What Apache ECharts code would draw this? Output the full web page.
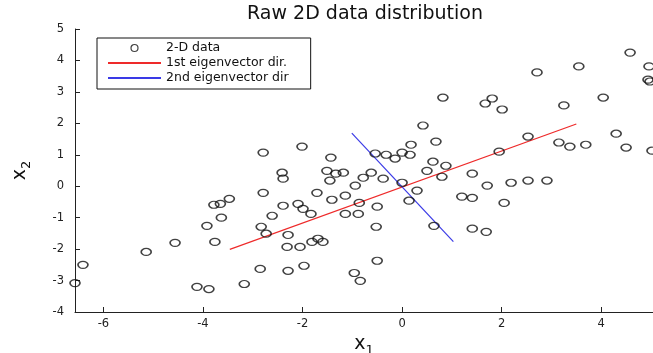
<!DOCTYPE html>
<html>
<head>
<meta charset="utf-8">
<script src="https://cdn.jsdelivr.net/npm/echarts@6/dist/echarts.min.js"></script>
<style>
  html, body { margin: 0; padding: 0; background: #fff; }
  #chart { width: 653px; height: 353px; }
</style>
</head>
<body>
<div id="chart"></div>
<script>
// raw 2-D samples [x1, x2]
const samples = [
  [-6.57, -3.08], [-6.41, -2.50], [-5.14, -2.09], [-4.56, -1.80], [-3.92, -1.26],
  [-3.78, -0.59], [-3.65, -0.56], [-3.47, -0.40], [-3.63, -1.00], [-3.76, -1.77],
  [-4.12, -3.20], [-3.88, -3.27], [-3.17, -3.11], [-2.79, -0.21], [-2.83, -1.29],
  [-2.73, -1.51], [-2.61, -0.94], [-2.39, -0.62], [-2.41, 0.43], [-2.39, 0.24],
  [-2.85, -2.63], [-2.29, -1.55], [-2.31, -1.93], [-2.05, -1.93], [-2.29, -2.69],
  [-2.09, -0.56], [-1.99, -0.72], [-1.83, -0.88], [-1.97, -2.53], [-1.81, -1.77],
  [-1.69, -1.67], [-1.59, -1.77], [-1.71, -0.21], [-2.79, 1.07], [-2.01, 1.26],
  [-1.51, 0.49], [-1.33, 0.40], [-1.18, 0.43], [-1.45, 0.18], [-1.43, 0.91],
  [-0.94, 0.02], [-0.78, 0.27], [-0.62, 0.43], [-0.38, 0.24], [-1.41, -0.43],
  [-1.14, -0.30], [-0.86, -0.53], [-1.14, -0.88], [-0.88, -0.88], [-0.50, -0.65],
  [-0.52, -1.29], [-0.50, -2.37], [-0.96, -2.76], [-0.84, -3.01], [-0.54, 1.04],
  [-0.32, 1.00], [-0.14, 0.88], [0.00, 1.07], [0.16, 1.00], [0.18, 1.32],
  [0.42, 1.93], [0.68, 1.42], [0.82, 2.82], [0.62, 0.78], [0.88, 0.65],
  [0.50, 0.49], [0.80, 0.30], [0.00, 0.11], [0.30, -0.14], [0.14, -0.46],
  [0.64, -1.26], [1.41, 0.40], [1.20, -0.33], [1.41, -0.37], [1.71, 0.02],
  [1.95, 1.10], [2.19, 0.11], [2.53, 0.18], [2.91, 0.18], [2.05, -0.53],
  [1.41, -1.35], [1.69, -1.45], [1.67, 2.63], [1.81, 2.79], [2.01, 2.44],
  [2.53, 1.58], [2.71, 3.62], [3.15, 1.39], [3.37, 1.26], [3.69, 1.32],
  [3.25, 2.57], [3.55, 3.81], [4.04, 2.82], [4.30, 1.67], [4.50, 1.23],
  [4.58, 4.25], [4.96, 3.81], [4.94, 3.39], [4.98, 3.33], [5.02, 1.13]
];

// eigenvector direction segments
const firstEigen = [[-3.46, -2.01], [3.50, 1.98]];
const secondEigen = [[-1.01, 1.69], [1.03, -1.76]];

const xTicks = [-6, -4, -2, 0, 2, 4];
const seriesNames = ['2-D data', '1st eigenvector dir.', '2nd eigenvector dir'];

const ring = 'path://M0,5A5,5,0,1,1,10,5A5,5,0,1,1,0,5Z';
const font = 'DejaVu Sans, Liberation Sans, sans-serif';
const axisStyle = { color: '#222', width: 1 };

const nameRich = {
  v: { fontFamily: font, fontSize: 19, color: '#111', lineHeight: 22, verticalAlign: 'top' },
  s: { fontFamily: font, fontSize: 13, color: '#111', lineHeight: 22, verticalAlign: 'bottom' },
};
const hiddenMarker = { color: 'rgba(0,0,0,0)', borderWidth: 0, opacity: 0 };

const chart = echarts.init(document.getElementById('chart'), null, { renderer: 'canvas' });

chart.setOption({
  backgroundColor: '#ffffff',
  animation: false,
  title: {
    text: 'Raw 2D data distribution',
    left: 365,
    top: 5,
    textAlign: 'center',
    padding: 0,
    textStyle: { fontFamily: font, fontSize: 19, fontWeight: 'normal', color: '#111' },
  },
  legend: {
    data: [
      { name: seriesNames[0], itemStyle: { borderWidth: 1.2 } },
      { name: seriesNames[1], itemStyle: hiddenMarker },
      { name: seriesNames[2], itemStyle: hiddenMarker },
    ],
    orient: 'vertical',
    left: 97,
    top: 38,
    padding: [3, 22, 4, 10],
    itemWidth: 53,
    itemHeight: 7,
    itemGap: 1,
    itemTextGap: 5,
    borderColor: '#111',
    borderWidth: 1,
    backgroundColor: '#fff',
    textStyle: { fontFamily: font, fontSize: 12.5, lineHeight: 14, color: '#111' },
  },
  grid: { left: 75, right: 0, top: 29, bottom: 41, outerBoundsMode: 'none', containLabel: false },
  xAxis: {
    type: 'value',
    min: -6.57,
    max: 5.04,
    name: '{v|x}{s|1}',
    nameLocation: 'middle',
    nameGap: 13,
    nameTextStyle: { rich: nameRich },
    axisLine: { onZero: false, lineStyle: axisStyle },
    axisTick: { inside: true, length: 5, customValues: xTicks, lineStyle: axisStyle },
    axisLabel: { customValues: xTicks, margin: 6, fontFamily: font, fontSize: 11.5, color: '#222' },
    splitLine: { show: false },
  },
  yAxis: {
    type: 'value',
    min: -4,
    max: 5,
    interval: 1,
    name: '{v|x}{s|2}',
    nameLocation: 'middle',
    nameRotate: 90,
    nameGap: 42,
    nameTextStyle: { rich: nameRich },
    axisLine: { onZero: false, lineStyle: axisStyle },
    axisTick: { inside: true, length: 5, lineStyle: axisStyle },
    axisLabel: { margin: 11, fontFamily: font, fontSize: 11.5, color: '#222' },
    splitLine: { show: false },
  },
  series: [
    {
      name: seriesNames[0],
      type: 'scatter',
      symbol: ring,
      symbolSize: [10, 7],
      data: samples,
      itemStyle: { color: 'rgba(0,0,0,0)', borderColor: '#111', borderWidth: 1.4 },
      z: 3,
    },
    {
      name: seriesNames[1],
      type: 'line',
      data: firstEigen,
      symbol: 'none',
      lineStyle: { color: '#ee2a2a', width: 1.2 },
      itemStyle: { color: '#ee2a2a' },
      z: 2,
    },
    {
      name: seriesNames[2],
      type: 'line',
      data: secondEigen,
      symbol: 'none',
      lineStyle: { color: '#3a3ae6', width: 1.2 },
      itemStyle: { color: '#3a3ae6' },
      z: 2,
    },
  ],
});
</script>
</body>
</html>
